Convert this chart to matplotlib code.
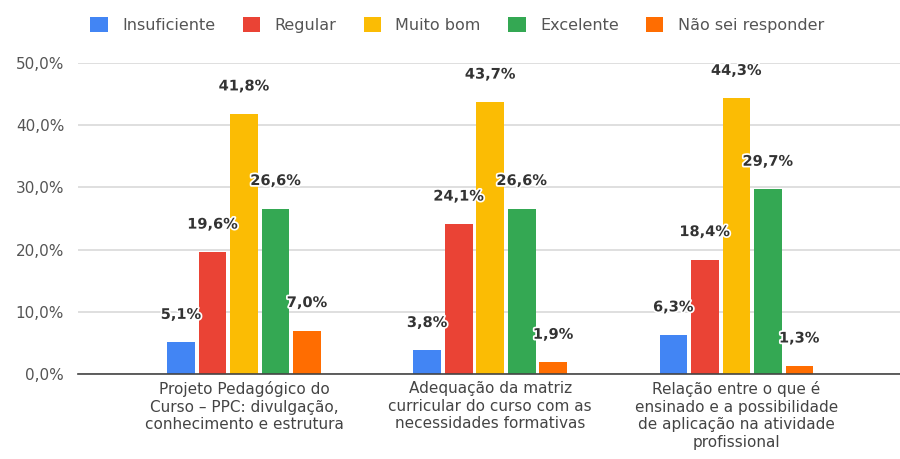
import matplotlib
matplotlib.use("Agg")
from matplotlib import pyplot as plt
from matplotlib import patheffects as pe
import numpy as np

categories = [
    "Projeto Pedagógico do\nCurso – PPC: divulgação,\nconhecimento e estrutura",
    "Adequação da matriz\ncurricular do curso com as\nnecessidades formativas",
    "Relação entre o que é\nensinado e a possibilidade\nde aplicação na atividade\nprofissional",
]
series_names = ["Insuficiente", "Regular", "Muito bom", "Excelente", "Não sei responder"]
insuficiente = [5.1, 3.8, 6.3]
regular = [19.6, 24.1, 18.4]
muito_bom = [41.8, 43.7, 44.3]
excelente = [26.6, 26.6, 29.7]
nao_sei = [7.0, 1.9, 1.3]
yticks = [0, 10, 20, 30, 40, 50]

colors = ["#4285F4", "#EA4335", "#FBBC04", "#34A853", "#FF6D01"]
series = [insuficiente, regular, muito_bom, excelente, nao_sei]

plt.rcParams["font.family"] = ["DejaVu Sans"]

fig = plt.figure(figsize=(9, 4.59), dpi=100)
ax = fig.add_axes([0.0867, 0.185, 0.9133, 0.678])

x = np.arange(len(categories))
step = 0.128
width = 0.112
for i, (name, vals, col) in enumerate(zip(series_names, series, colors)):
    pos = x + (i - 2) * step
    ax.bar(pos, vals, width=width, color=col, label=name, zorder=3)
    for px, v in zip(pos, vals):
        ax.annotate(f"{v:.1f}%".replace(".", ","), (px, v), xytext=(0, 28),
                    textcoords="offset pixels", ha="center", va="center",
                    fontsize=10.5, fontweight="bold", color="#333333", zorder=5,
                    path_effects=[pe.withStroke(linewidth=2.5, foreground="white")])

ax.set_xlim(-0.675, 2.665)
ax.set_ylim(0, 50)
ax.set_yticks(yticks)
ax.set_yticklabels([f"{t:.1f}%".replace(".", ",") for t in yticks], color="#555555", fontsize=11)
ax.set_xticks(x)
ax.set_xticklabels(categories, color="#444444", fontsize=11, linespacing=1.22)
ax.tick_params(axis="both", length=0)
ax.tick_params(axis="y", pad=10)
ax.tick_params(axis="x", pad=5)
ax.grid(axis="y", color="#d9d9d9", linewidth=1.2, zorder=0)
for s in ["top", "right", "left"]:
    ax.spines[s].set_visible(False)
ax.spines["bottom"].set_color("#444444")
ax.spines["bottom"].set_linewidth(1.2)
ax.spines["bottom"].set_zorder(4)

fig.legend(loc="center", bbox_to_anchor=(0.508, 0.9455), ncol=5, frameon=False,
           fontsize=11.5, handlelength=1.1, handleheight=1.0, handletextpad=0.9,
           columnspacing=1.7, labelcolor="#555555", borderpad=0)

fig.savefig("out.png", dpi=100, facecolor="white")
